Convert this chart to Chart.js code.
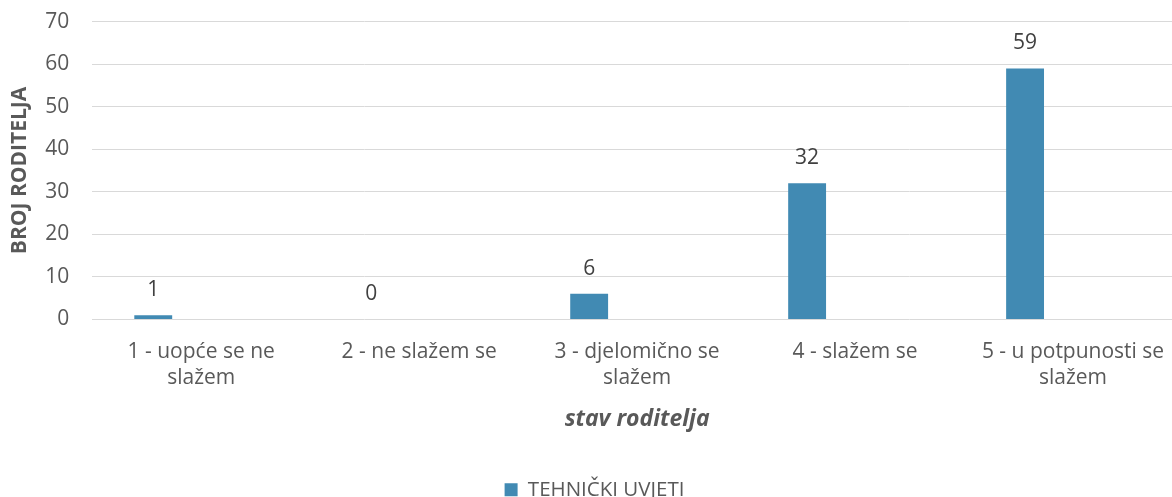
<!DOCTYPE html>
<html>
<head>
<meta charset="utf-8">
<script src="https://cdn.jsdelivr.net/npm/chart.js@4"></script>
<style>
  html, body { margin: 0; padding: 0; background: #fff; overflow: hidden; }
  #wrap { width: 1190px; height: 524px; margin-top: -14px; }
</style>
</head>
<body>
<div id="wrap"><canvas id="myChart"></canvas></div>
<script>
const categories = [
  ["1 - uopće se ne", "slažem"],
  ["2 - ne slažem se"],
  ["3 - djelomično se", "slažem"],
  ["4 - slažem se"],
  ["5 - u potpunosti se", "slažem"],
];
const seriesName = "TEHNIČKI UVJETI";
const tehnickiUvjeti = [1, 0, 6, 32, 59];
// empty slots of the original grouped chart (nothing plotted)
const emptySeries = [null, null, null, null, null];
const yTicks = [0, 10, 20, 30, 40, 50, 60, 70];

const FONT = "'Open Sans', sans-serif";

const valueLabels = {
  id: "valueLabels",
  afterDatasetsDraw(chart) {
    const ctx = chart.ctx;
    const meta = chart.getDatasetMeta(0);
    ctx.save();
    ctx.font = "21px " + FONT;
    ctx.fillStyle = "#404040";
    ctx.textAlign = "center";
    ctx.textBaseline = "middle";
    meta.data.forEach((bar, i) => {
      ctx.fillText(String(tehnickiUvjeti[i]), bar.x, bar.y - 25);
    });
    ctx.restore();
  },
};

const ctx = document.getElementById("myChart").getContext("2d");

const myChart = new Chart(ctx, {
  type: "bar",
  data: {
    labels: categories,
    datasets: [
      {
        label: seriesName,
        data: tehnickiUvjeti,
        backgroundColor: "#418AB3",
        categoryPercentage: 0.66,
        barPercentage: 0.79,
      },
      { label: "", data: emptySeries, categoryPercentage: 0.66, barPercentage: 0.79 },
      { label: "", data: emptySeries, categoryPercentage: 0.66, barPercentage: 0.79 },
    ],
  },
  plugins: [valueLabels],
  options: {
    responsive: true,
    maintainAspectRatio: false,
    animation: false,
    layout: {
      padding: { left: 7, right: 8, top: 0, bottom: 0 },
    },
    scales: {
      x: {
        grid: { display: false },
        border: { display: false },
        ticks: {
          color: "#595959",
          font: { family: FONT, size: 21, lineHeight: 1.25 },
          padding: 11,
          maxRotation: 0,
          autoSkip: false,
        },
        title: {
          display: true,
          text: "stav roditelja",
          color: "#595959",
          font: { family: FONT, size: 23, weight: "bold", style: "italic" },
          padding: { top: 4, bottom: 42 },
        },
      },
      y: {
        min: 0,
        max: 70,
        afterBuildTicks: (axis) => {
          axis.ticks = yTicks.map((v) => ({ value: v }));
        },
        grid: { color: "#d9d9d9", lineWidth: 1, drawTicks: false },
        border: { display: false },
        ticks: {
          color: "#595959",
          font: { family: FONT, size: 21 },
          padding: 23,
        },
        title: {
          display: true,
          text: "BROJ RODITELJA",
          color: "#595959",
          font: { family: FONT, size: 21, weight: "bold" },
          padding: { top: 0, bottom: -10 },
        },
      },
    },
    plugins: {
      legend: {
        position: "bottom",
        labels: {
          filter: (item) => item.text !== "",
          color: "#595959",
          font: { family: FONT, size: 20.5 },
          boxWidth: 13,
          boxHeight: 13,
          padding: 4,
        },
      },
      tooltip: { enabled: false },
    },
  },
});
</script>
</body>
</html>
